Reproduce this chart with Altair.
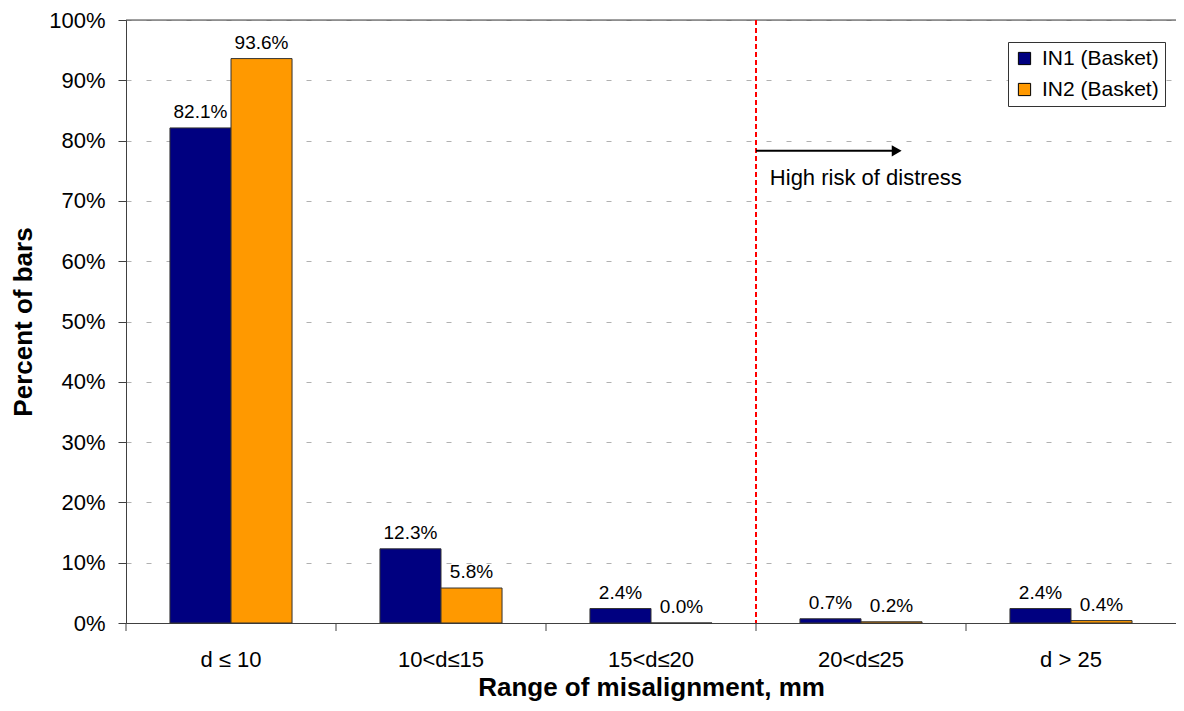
import altair as alt
import pandas as pd

categories = ["d ≤ 10", "10<d≤15", "15<d≤20", "20<d≤25", "d > 25"]
series_names = ["IN1 (Basket)", "IN2 (Basket)"]
in1_values = [82.1, 12.3, 2.4, 0.7, 2.4]
in2_values = [93.6, 5.8, 0.0, 0.2, 0.4]
series_colors = ["#000080", "#FF9900"]
y_ticks = [0, 10, 20, 30, 40, 50, 60, 70, 80, 90, 100]

annotation_category = ["20<d≤25"]
annotation_text = ["High risk of distress"]
arrow_level = [78.3]
text_level = [73.8]

rows = []
for c, a, b in zip(categories, in1_values, in2_values):
    rows.append({"cat": c, "series": series_names[0], "v": a})
    rows.append({"cat": c, "series": series_names[1], "v": b})
df = pd.DataFrame(rows)
ann = pd.DataFrame({"cat": annotation_category, "txt": annotation_text,
                    "ay": arrow_level, "ty": text_level})
tick_df = pd.DataFrame({"cat": categories})

FONT = "Liberation Sans"

xscale = alt.Scale(domain=categories, paddingInner=0, paddingOuter=0)
yscale = alt.Scale(domain=[0, 100], nice=False)
x_axis = alt.Axis(title="Range of misalignment, mm", labelAngle=0, ticks=False, tickSize=0,
                  labelPadding=26, labelFontSize=22, labelColor="black",
                  titleFontSize=26, titleFontWeight="bold", titlePadding=4, titleColor="black",
                  domainColor="#404040", grid=False, labelFont=FONT, titleFont=FONT)
y_axis = alt.Axis(title="Percent of bars", values=y_ticks, labelExpr="datum.value + '%'",
                  tickSize=8, labelPadding=13, labelFontSize=22, labelColor="black",
                  titleFontSize=26, titleFontWeight="bold", titlePadding=12, titleColor="black",
                  domainColor="#404040", tickColor="#404040",
                  grid=True, gridDash=[5, 15], gridColor="#b0b0b0",
                  labelFont=FONT, titleFont=FONT)

X = lambda **kw: alt.X("cat:N", sort=categories, scale=xscale, axis=x_axis, **kw)

base = alt.Chart(df)

bars = base.mark_bar(stroke="#333333", strokeWidth=1).encode(
    x=X(),
    xOffset=alt.XOffset("series:N", sort=series_names,
                        scale=alt.Scale(domain=series_names, paddingInner=0, paddingOuter=0.72)),
    y=alt.Y("v:Q", scale=yscale, axis=y_axis),
    color=alt.Color("series:N", sort=series_names,
                    scale=alt.Scale(domain=series_names, range=series_colors),
                    legend=alt.Legend(title=None, orient="none", legendX=882, legendY=22,
                                      symbolType="square", symbolSize=150,
                                      symbolStrokeColor="black", symbolStrokeWidth=1,
                                      labelFontSize=21, labelFont=FONT, labelColor="black",
                                      strokeColor="#333333", padding=6, rowPadding=9,
                                      labelOffset=7, fillColor="white")),
)

labels = base.transform_calculate(
    lbl="format(datum.v, '.1f') + '%'"
).mark_text(fontSize=19, font=FONT, baseline="alphabetic", dy=-10, color="black").encode(
    x=X(),
    xOffset=alt.XOffset("series:N", sort=series_names),
    y=alt.Y("v:Q", scale=yscale, axis=y_axis),
    text="lbl:N",
)

top_line = alt.Chart(pd.DataFrame({"v": [100]})).mark_rule(color="#404040", strokeWidth=1).encode(
    y=alt.Y("v:Q", scale=yscale, axis=y_axis)
)

x_ticks = alt.Chart(tick_df).mark_rule(color="#404040", y2Offset=8).encode(
    x=X(bandPosition=0),
    y=alt.datum(0),
    y2=alt.datum(0),
)

ann_base = alt.Chart(ann)

red_line = ann_base.mark_rule(color="#FF0000", strokeDash=[5, 3], strokeWidth=2).encode(
    x=X(bandPosition=0),
)

arrow_shaft = ann_base.mark_rule(color="black", strokeWidth=2).encode(
    x=X(bandPosition=0),
    x2=alt.X2("cat", bandPosition=0.65),
    y=alt.Y("ay:Q", scale=yscale, axis=y_axis),
)

arrow_head = ann_base.mark_point(shape="triangle-right", filled=True, size=130,
                                 color="black", opacity=1).encode(
    x=X(bandPosition=0.67),
    y=alt.Y("ay:Q", scale=yscale, axis=y_axis),
)

ann_text = ann_base.mark_text(align="left", baseline="middle", fontSize=22, font=FONT,
                              color="black").encode(
    x=X(bandPosition=0.066),
    y=alt.Y("ty:Q", scale=yscale, axis=y_axis),
    text="txt:N",
)

chart = alt.layer(
    bars, labels, top_line, x_ticks, red_line, arrow_shaft, arrow_head, ann_text
).properties(
    width=1050, height=603,
    autosize=alt.AutoSizeParams(type="none"),
    padding={"left": 118, "top": 12, "right": 0, "bottom": 80},
).configure_view(stroke=None).configure(background="white")

chart.save("out.html", embed_options={"renderer": "svg", "actions": False})
